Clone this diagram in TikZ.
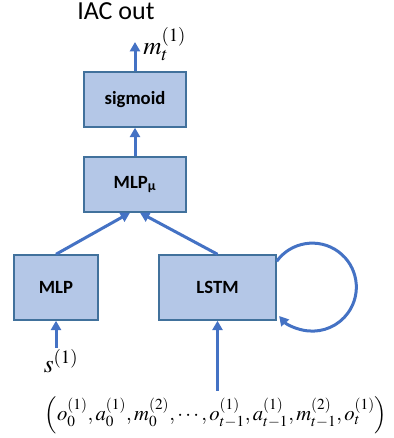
\documentclass[tikz,border=0pt]{standalone}
\usepackage{mathptmx}
\usepackage[no-math]{fontspec}
\setmainfont{Carlito}
\usetikzlibrary{arrows.meta}
\definecolor{boxfill}{HTML}{B4C7E7}
\definecolor{boxline}{HTML}{41719C}
\definecolor{arrline}{HTML}{4472C4}

\begin{document}
\begin{tikzpicture}[x=0.75pt, y=-0.75pt,
  box/.style={rectangle, draw=boxline, fill=boxfill, line width=1.1pt, inner sep=0pt,
    font=\fontsize{14}{16}\selectfont\bfseries},
  arr/.style={draw=arrline, line width=2.25pt, -{Triangle[length=7pt, width=7.5pt]}},
  lbl/.style={inner sep=0pt, font=\fontsize{19}{22}\selectfont}]
\useasboundingbox (0,0) rectangle (393,438);

\node [anchor=base west, inner sep=0pt, font=\fontsize{19.5}{24}\selectfont] (title) at (77,19.5) {IAC out};

\node [box, minimum width=76.5pt, minimum height=41.25pt] (sigm) at (135,99.5) {sigmoid};
\node [box, minimum width=76.5pt, minimum height=41.25pt] (mlpmu) at (135,184.5) {MLP\textsubscript{μ}};
\node [box, minimum width=63pt, minimum height=48.75pt] (mlp) at (56,287.5) {MLP};
\node [box, minimum width=87.75pt, minimum height=48.75pt] (lstm) at (217.5,287.5) {LSTM};

\coordinate (mtop) at (135,42);
\node [lbl, anchor=west] (mlab) at (143,44) {$m_t^{(1)}$};
\node [lbl] (slab) at (61,361) {$s^{(1)}$};
\node [lbl, font=\fontsize{15.5}{20}\selectfont] (tuple) at (216,415)
  {$\left(o_0^{(1)},a_0^{(1)},m_0^{(2)},\cdots,o_{t-1}^{(1)},a_{t-1}^{(1)},m_{t-1}^{(2)},o_t^{(1)}\right)$};

\draw [arr] (sigm) -- (mtop);
\draw [arr] (mlpmu) -- (sigm);
\draw [arr] (mlp.north) -- ([xshift=-3.75pt]mlpmu.south);
\draw [arr] (lstm.north) -- ([xshift=3.75pt]mlpmu.south);
\draw [arr] ([yshift=1pt]slab.north -| mlp) -- (mlp.south);
\draw [arr] ([yshift=4pt]tuple.north -| lstm) -- (lstm.south);
\draw [arr] ([yshift=-5.25pt]lstm.north east) arc[start angle=-144, end angle=139, radius=44];
\end{tikzpicture}
\end{document}
